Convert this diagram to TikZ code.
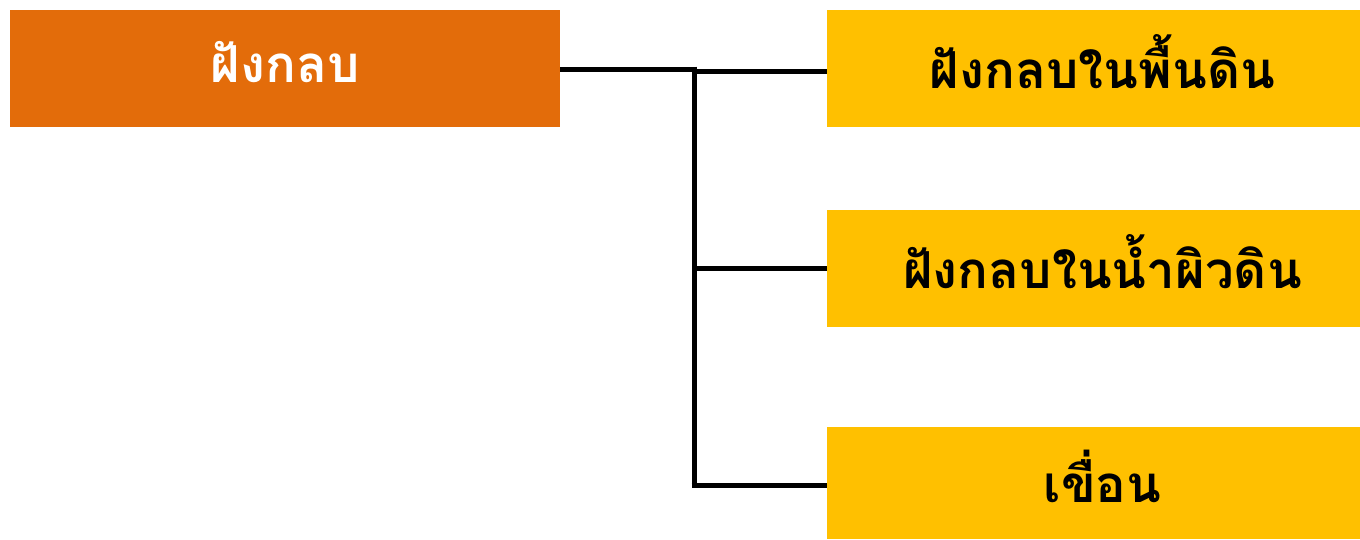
\documentclass[tikz,border=0pt]{standalone}
\usepackage{fontspec}
\newfontfamily\thaifont[Script=Thai]{Loma}
\definecolor{orangebox}{HTML}{E36C0A}
\definecolor{yellowbox}{HTML}{FFC000}
\newcommand{\liftup}[1]{\raisebox{14pt}{#1}}
\newcommand{\liftright}[1]{\hspace*{18pt}\raisebox{14pt}{#1}}
\begin{document}
\begin{tikzpicture}[x=1pt,y=-1pt,
  rootbox/.style={fill=orangebox,draw=none,minimum width=550pt,minimum height=117pt,inner sep=0pt,text=white,font=\thaifont\bfseries\fontsize{51}{58}\selectfont},
  leafbox/.style={fill=yellowbox,draw=none,minimum width=533pt,minimum height=117pt,inner sep=0pt,text=black,font=\thaifont\bfseries\fontsize{51}{58}\selectfont},
  conn/.style={line width=5pt,black}]
\useasboundingbox (0,0) rectangle (1360,539);
\node[rootbox] (root) at (285,68.5) {\liftup{ฝังกลบ}};
\node[leafbox] (a) at (1093.5,68.5) {\liftright{ฝังกลบในพื้นดิน}};
\node[leafbox] (b) at (1093.5,268.5) {\liftright{ฝังกลบในน้ำผิวดิน}};
\node[leafbox,minimum height=112pt] (c) at (1093.5,483) {\liftright{เขื่อน}};
\coordinate (j) at (694,69);
\draw[conn] (root.east |- 0,69) -- (j);
\draw[conn] (694,66.5) -- (694,487.5);
\draw[conn] (694,71.5) -- (a.west |- 0,71.5);
\draw[conn] (694,268) -- (b.west |- 0,268);
\draw[conn] (691.5,485) -- (c.west |- 0,485);
\end{tikzpicture}
\end{document}
